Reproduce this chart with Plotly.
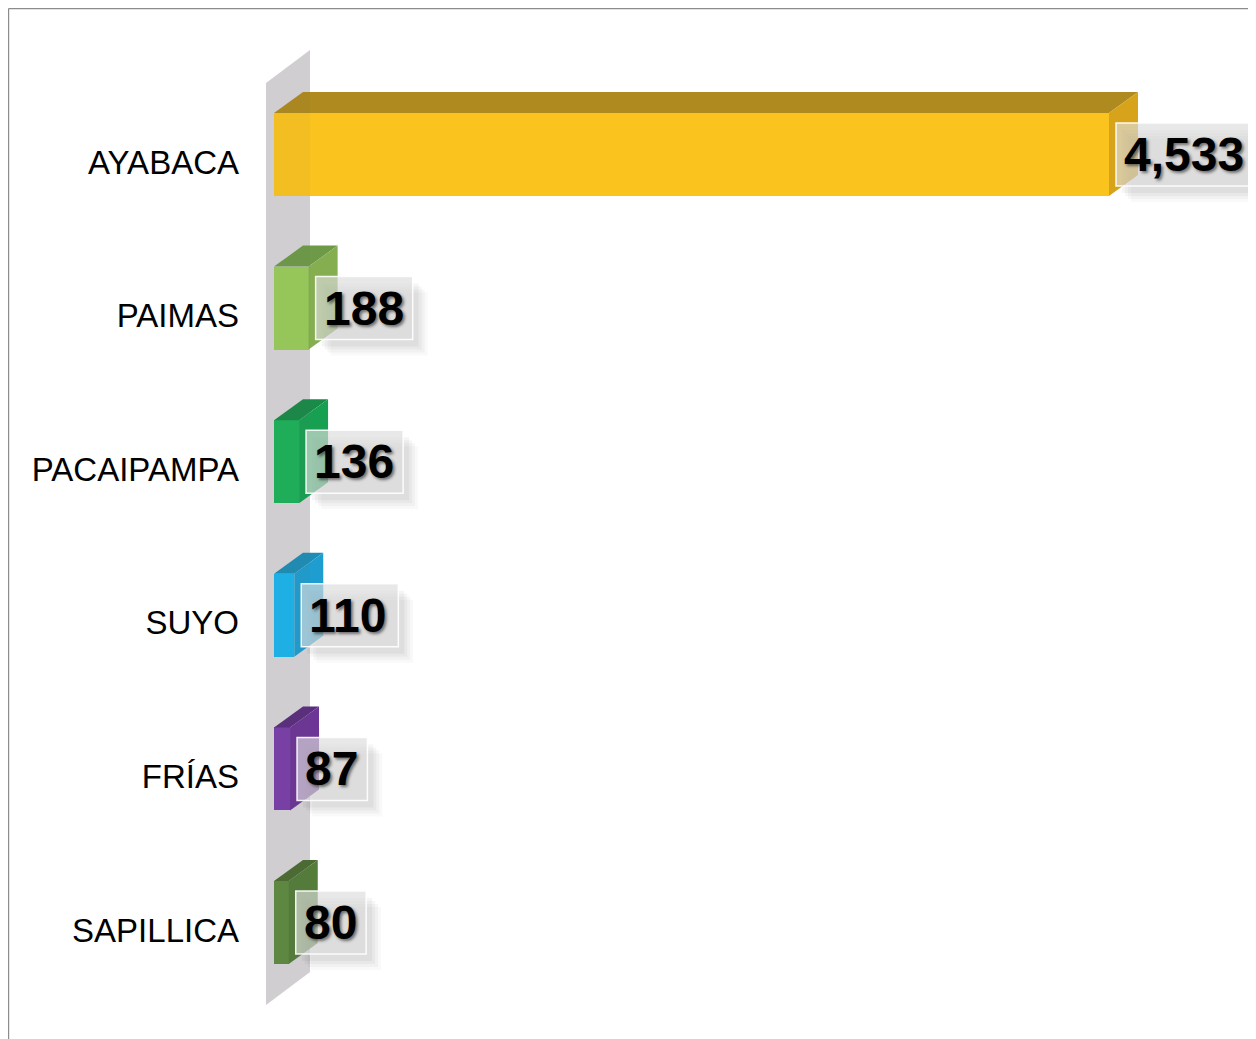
import plotly.graph_objects as go

# ---------------- data ----------------
categories = ["AYABACA", "PAIMAS", "PACAIPAMPA", "SUYO", "FRÍAS", "SAPILLICA"]
values = [4533, 188, 136, 110, 87, 80]
front_colors = ["#FAC31E", "#99CC5A", "#1CB25A", "#1BB5EB", "#7A3FA8", "#5E8B40"]
top_colors = ["#AF8A1E", "#6E9A47", "#1A8A48", "#1E8DB5", "#5A2D7D", "#4A6B32"]
side_colors = ["#D6A31A", "#84AE50", "#18A052", "#1E9ED0", "#6C3596", "#557D3A"]

# ---------------- layout geometry (figure pixels; page adds 8px body margin) ----------------
W, H = 1248, 1031
ML = 242                      # left margin (category labels live here)
PLOT_W = W - ML
X0_PX = 266                   # pixel position of value 0
SCALE = 835 / 4533            # px per unit
ROW_PX = 153.6                # px between category rows
FIRST_ROW_PX = 146.5          # px centre of first row

x_min = -(X0_PX - ML) / SCALE
x_max = x_min + PLOT_W / SCALE
y_top = -FIRST_ROW_PX / ROW_PX
y_bot = y_top + H / ROW_PX

BAR_W = 83 / ROW_PX
DX = 29 / SCALE               # 3-D depth offsets in data units
DY = -21 / ROW_PX


def px_x(p):
    return (p - X0_PX) / SCALE


def px_y(p):
    return (p - FIRST_ROW_PX) / ROW_PX


idx = list(range(len(categories)))

fig = go.Figure()

# top and side faces of the 3-D bars
for i, v in enumerate(values):
    yt = i - BAR_W / 2
    yb = i + BAR_W / 2
    fig.add_trace(go.Scatter(
        x=[0, v, v + DX, DX, 0], y=[yt, yt, yt + DY, yt + DY, yt],
        mode="lines", fill="toself", fillcolor=top_colors[i],
        line=dict(width=0), hoverinfo="skip", showlegend=False))
    fig.add_trace(go.Scatter(
        x=[v, v + DX, v + DX, v, v], y=[yt, yt + DY, yb + DY, yb, yt],
        mode="lines", fill="toself", fillcolor=side_colors[i],
        line=dict(width=0), hoverinfo="skip", showlegend=False))

# front faces
fig.add_trace(go.Bar(
    x=values, y=idx, orientation="h", width=BAR_W,
    marker=dict(color=front_colors, line=dict(width=0)),
    hoverinfo="skip", showlegend=False))

shapes = []
# back wall (3-D axis wall)
wall_path = "M {a},{b} L {c},{d} L {e},{f} L {g},{h} Z".format(
    a=px_x(258), b=px_y(75), c=px_x(302), d=px_y(42),
    e=px_x(302), f=px_y(964), g=px_x(258), h=px_y(997))
shapes.append(dict(type="path", path=wall_path, xref="x", yref="y",
                   fillcolor="#D6D4D6", line=dict(width=0), layer="below"))
shapes.append(dict(type="path", path=wall_path, xref="x", yref="y",
                   fillcolor="rgba(90,90,90,0.05)", line=dict(width=0), layer="above"))


# chart frame
def pxp(p):
    return (p - ML) / PLOT_W


shapes.append(dict(type="line", xref="paper", yref="paper",
                   x0=pxp(0.6), x1=pxp(0.6), y0=1 - 0.6 / H, y1=-0.01,
                   line=dict(color="#8C8C8C", width=1.2)))
shapes.append(dict(type="line", xref="paper", yref="paper",
                   x0=pxp(0.6), x1=1.01, y0=1 - 0.6 / H, y1=1 - 0.6 / H,
                   line=dict(color="#8C8C8C", width=1.2)))

annotations = []
LBL_FS = 48
for i, v in enumerate(values):
    txt = f"{v:,}"
    tw = sum(0.556 if ch.isdigit() else 0.278 for ch in txt) * LBL_FS
    bw = tw + 17
    # soft shadow (layered translucent rectangles)
    for (ox, oy, a) in [(15, 16, 0.025), (12, 13, 0.03), (9, 10, 0.035), (6, 7, 0.04)]:
        shapes.append(dict(type="rect", xref="x", yref="y",
                           xsizemode="pixel", ysizemode="pixel",
                           xanchor=v, yanchor=i,
                           x0=7 + ox, x1=7 + bw + ox, y0=-31.5 - oy, y1=31.5 - oy,
                           fillcolor=f"rgba(0,0,0,{a})", line=dict(width=0), layer="above"))
    shapes.append(dict(type="rect", xref="x", yref="y",
                       xsizemode="pixel", ysizemode="pixel",
                       xanchor=v, yanchor=i,
                       x0=7, x1=7 + bw, y0=-31.5, y1=31.5,
                       fillcolor="rgba(220,220,220,0.66)",
                       line=dict(color="rgba(255,255,255,0.9)", width=1.5), layer="above"))
    annotations.append(dict(
        x=v, y=i, xref="x", yref="y", text=f"<b>{txt}</b>", showarrow=False,
        xanchor="left", yanchor="middle", xshift=15, borderpad=0, borderwidth=0,
        font=dict(family="Liberation Sans, Arial, sans-serif", size=LBL_FS, color="#000000",
                  shadow="2px 2px 3px rgba(0,0,0,0.5)")))

fig.update_layout(
    width=W, height=H,
    margin=dict(l=ML, r=0, t=0, b=0),
    paper_bgcolor="white", plot_bgcolor="white",
    bargap=0,
    xaxis=dict(range=[x_min, x_max], visible=False, fixedrange=True),
    yaxis=dict(range=[y_bot, y_top], tickmode="array",
               tickvals=[i + 7.5 / ROW_PX for i in idx], ticktext=categories,
               showgrid=False, zeroline=False, showline=False, ticks="",
               ticklabelstandoff=10,
               tickfont=dict(family="Liberation Sans, Arial, sans-serif", size=33, color="#000000")),
    shapes=shapes, annotations=annotations,
    showlegend=False,
)

fig.write_html("out.html")
